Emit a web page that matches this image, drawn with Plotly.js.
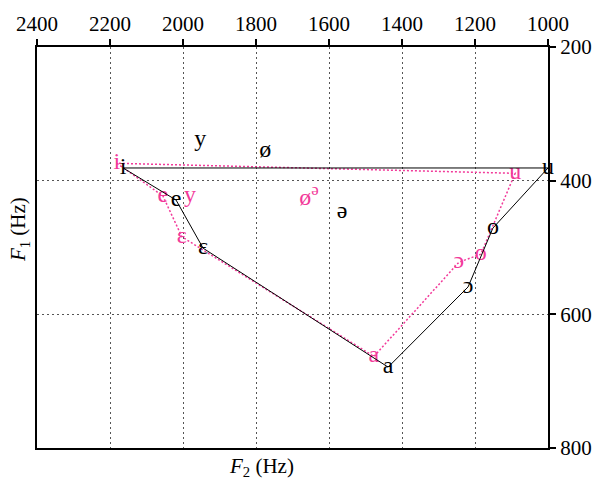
<!DOCTYPE html>
<html>
<head>
<meta charset="utf-8">
<script src="https://cdn.plot.ly/plotly-3.0.1.min.js"></script>
<style>body{margin:0;background:#fff}</style>
</head>
<body>
<div id="chart" style="width:597px;height:486px"></div>
<script>
// black vowel polygon (F2, F1 in Hz)
var blackVowels = ['i', 'e', 'ɛ', 'a', 'ɔ', 'o', 'u', ''];
var blackF2 = [2164, 2019, 1945, 1438, 1219, 1151, 1000, 2164];
var blackF1 = [381, 429, 501, 679, 559, 471, 381, 381];

// black loose vowels
var blackExtra = ['y', 'ø', 'ə'];
var blackExtraF2 = [1953, 1775, 1564];
var blackExtraF1 = [339, 356, 447];

// pink vowel polygon
var pinkVowels = ['i', 'e', 'ɛ', 'a', 'ɔ', 'o', 'u', ''];
var pinkF2 = [2181, 2055, 2003, 1477, 1244, 1184, 1090, 2181];
var pinkF1 = [374, 423, 484, 663, 522, 510, 389, 374];

// pink loose vowels
var pinkExtra = ['y', 'ø<sup>ə</sup>'];
var pinkExtraF2 = [1981, 1655];
var pinkExtraF1 = [423, 428];

var pink = '#f23a9a';
var serif = 'Liberation Serif, Times New Roman, serif';

var traces = [
  {
    x: pinkF2, y: pinkF1, text: pinkVowels,
    type: 'scatter', mode: 'lines+text', textposition: 'middle center',
    cliponaxis: false,
    line: {color: pink, width: 1.5, dash: '2px,2px'},
    textfont: {family: serif, size: 24, color: pink}
  },
  {
    x: pinkExtraF2, y: pinkExtraF1, text: pinkExtra,
    type: 'scatter', mode: 'text', textposition: 'middle center',
    textfont: {family: serif, size: 24, color: pink}
  },
  {
    x: blackF2, y: blackF1, text: blackVowels,
    type: 'scatter', mode: 'lines+text', textposition: 'middle center',
    cliponaxis: false,
    line: {color: 'black', width: 1},
    textfont: {family: serif, size: 24, color: 'black'}
  },
  {
    x: blackExtraF2, y: blackExtraF1, text: blackExtra,
    type: 'scatter', mode: 'text', textposition: 'middle center',
    textfont: {family: serif, size: 24, color: 'black'}
  }
];

var layout = {
  width: 597,
  height: 486,
  showlegend: false,
  paper_bgcolor: 'white',
  plot_bgcolor: 'white',
  margin: {l: 37, r: 49, t: 47, b: 38},
  font: {family: serif, size: 20, color: 'black'},
  xaxis: {
    side: 'top',
    range: [2400, 1000],
    dtick: 200,
    tick0: 1000,
    showline: true,
    mirror: true,
    linecolor: 'black',
    linewidth: 2,
    ticks: 'outside',
    ticklen: 6,
    tickwidth: 2,
    tickcolor: 'black',
    showgrid: true,
    gridcolor: '#555',
    griddash: '2px,3px',
    gridwidth: 1,
    zeroline: false,
    tickfont: {family: serif, size: 21}
  },
  yaxis: {
    side: 'right',
    range: [800, 200],
    dtick: 200,
    tick0: 200,
    showline: true,
    mirror: true,
    linecolor: 'black',
    linewidth: 2,
    ticks: 'outside',
    ticklen: 6,
    tickwidth: 2,
    tickcolor: 'black',
    showgrid: true,
    gridcolor: '#555',
    griddash: '2px,3px',
    gridwidth: 1,
    zeroline: false,
    tickfont: {family: serif, size: 21}
  },
  annotations: [
    {
      xref: 'paper', yref: 'paper',
      x: 0.44, y: -0.048,
      xanchor: 'center', yanchor: 'middle',
      text: '<i>F</i><sub>2</sub> (Hz)',
      showarrow: false,
      font: {family: serif, size: 21}
    },
    {
      xref: 'paper', yref: 'paper',
      x: -0.034, y: 0.545,
      xanchor: 'center', yanchor: 'middle',
      textangle: -90,
      text: '<i>F</i><sub>1</sub> (Hz)',
      showarrow: false,
      font: {family: serif, size: 21}
    }
  ]
};

Plotly.newPlot('chart', traces, layout, {displayModeBar: false, staticPlot: true});
</script>
</body>
</html>
